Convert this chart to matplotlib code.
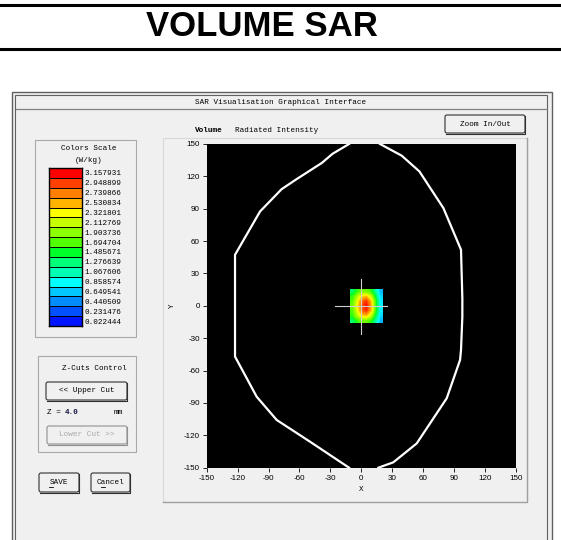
import numpy as np
import matplotlib
matplotlib.use("Agg")
import matplotlib.pyplot as plt
from matplotlib.colors import LinearSegmentedColormap
from matplotlib.patches import Rectangle, FancyBboxPatch

# Colour scale of the SAR viewer (top = max)
scale_labels = ["3.157931", "2.948899", "2.739866", "2.530834", "2.321801", "2.112769",
                "1.903736", "1.694704", "1.485671", "1.276639", "1.067606", "0.858574",
                "0.649541", "0.440509", "0.231476", "0.022444"]
scale_colors = ["#ff0000", "#ff4000", "#ff8000", "#ffb400", "#ffff00", "#c8ff00",
                "#8cff00", "#50ff00", "#00ff28", "#00ff78", "#00ffb4", "#00ffff",
                "#00c8ff", "#008cff", "#0050ff", "#0014ff"]

# SAR values (W/kg) on the small cube slice, rows top -> bottom
sar_grid = np.array([
    [1.3, 1.6, 1.8, 1.8, 1.6, 1.1, 0.6],
    [1.6, 2.0, 2.4, 2.5, 2.1, 1.4, 0.7],
    [1.7, 2.2, 2.8, 3.0, 2.5, 1.6, 0.8],
    [1.8, 2.3, 2.9, 3.15, 2.6, 1.6, 0.8],
    [1.7, 2.2, 2.8, 3.0, 2.5, 1.6, 0.8],
    [1.6, 2.0, 2.4, 2.5, 2.1, 1.4, 0.7],
    [1.3, 1.6, 1.8, 1.8, 1.6, 1.1, 0.6],
])
sar_extent = [-10.8, 20.5, -16.1, 14.8]

# head outline (mm)
left_x = [-11.8, -27.7, -38.3, -62.6, -77.2, -98.2, -122.5, -122.5, -101.5, -82.0, -49.7, -11.8]
left_y = [150, 141, 132.4, 117.5, 108.2, 87.5, 47.3, -47.0, -84.2, -105.8, -125.9, -150]
right_x = [16.7, 31.2, 53.9, 83.0, 96.0, 96.9, 98.2, 98.2, 96.9, 79.8, 56.5, 39.3, 18.3]
right_y = [-150, -145, -127.5, -85.7, -50.1, -40.8, -10.0, 7.1, 52.0, 90.6, 124.6, 139.2, 150]

ticks = [-150, -120, -90, -60, -30, 0, 30, 60, 90, 120, 150]

W, H = 561, 540
GUI = "Liberation Mono"
BG = "#f0f0f0"

fig = plt.figure(figsize=(W / 100, H / 100), dpi=100)
bg = fig.add_axes([0, 0, 1, 1])
bg.set_xlim(0, W)
bg.set_ylim(H, 0)
bg.axis("off")


def frac(x0, y0, x1, y1):
    return [x0 / W, 1 - y1 / H, (x1 - x0) / W, (y1 - y0) / H]


# page title
bg.plot([0, W], [5, 5], color="black", lw=2.2)
bg.plot([0, W], [49, 49], color="black", lw=2.2)
bg.text(262, 27, "VOLUME SAR", ha="center", va="center", fontsize=25,
        fontweight="bold", family="Liberation Sans")

# window
bg.add_patch(Rectangle((12, 92), 540, 460, facecolor=BG, edgecolor="#606060", lw=1.0))
bg.add_patch(Rectangle((15.5, 95), 532, 460, facecolor=BG, edgecolor="#606060", lw=0.8))
bg.plot([16, 547], [108.5, 108.5], color="#808080", lw=0.9)
bg.text(281, 102, "SAR Visualisation Graphical Interface", ha="center", va="center",
        fontsize=5.5, family=GUI)


def button(x0, y0, x1, y1, label, color="black", edge="#303030"):
    bg.add_patch(FancyBboxPatch((x0, y0), x1 - x0, y1 - y0,
                                boxstyle="round,pad=0,rounding_size=2",
                                facecolor=BG, edgecolor=edge, lw=0.8))
    bg.plot([x0 + 1, x1, x1], [y1 + 0.8, y1 + 0.8, y0 + 1], color=edge, lw=0.8)
    bg.text((x0 + x1) / 2, (y0 + y1) / 2, label, ha="center", va="center",
            fontsize=5.5, family=GUI, color=color)


button(445, 115, 525, 133, "Zoom In/Out")
bg.text(195, 131, "Volume", ha="left", va="center", fontsize=5.5, family=GUI,
        fontweight="bold")
bg.text(235, 131, "Radiated Intensity", ha="left", va="center", fontsize=5.5, family=GUI)

# plot panel
bg.add_patch(Rectangle((163, 138), 364, 364, facecolor=BG, edgecolor="#d8d8d8", lw=0.8))
bg.plot([163, 527, 527], [502, 502, 138], color="#a0a0a0", lw=1.0)

# colour scale panel
bg.add_patch(Rectangle((35, 140), 101, 197, facecolor=BG, edgecolor="#a8a8a8", lw=0.8))
bg.text(89, 149, "Colors Scale", ha="center", va="center", fontsize=5.5, family=GUI)
bg.text(89, 160, "(W/kg)", ha="center", va="center", fontsize=5.5, family=GUI)

# z-cuts panel
bg.add_patch(Rectangle((38, 356), 98, 96, facecolor=BG, edgecolor="#a8a8a8", lw=0.8))
bg.text(127, 369, "Z-Cuts Control", ha="right", va="center", fontsize=5.5, family=GUI)
button(46, 382, 127, 400, "<< Upper Cut")
bg.text(47, 412, "Z =", ha="left", va="center", fontsize=5.5, family=GUI)
bg.text(65, 412, "4.0", ha="left", va="center", fontsize=5.5, family=GUI,
        fontweight="bold", color="#101040")
bg.text(114, 412, "mm", ha="left", va="center", fontsize=5.5, family=GUI)
button(47, 426, 127, 444, "Lower Cut >>", color="#a8a8a8", edge="#909090")

button(39, 473, 79, 492, "SAVE")
button(91, 473, 130, 492, "Cancel")
bg.plot([49, 53.5], [487, 487], color="black", lw=0.6)
bg.plot([101, 105.5], [487, 487], color="black", lw=0.6)

# colour bar
cax = fig.add_axes(frac(49, 168, 82, 326))
ypos = np.arange(len(scale_colors))[::-1]
cax.barh(ypos, 1, height=1, color=scale_colors, edgecolor="black", lw=0.7)
cax.set_xlim(0, 1)
cax.set_ylim(-0.5, len(scale_colors) - 0.5)
cax.set_xticks([])
cax.set_yticks(ypos)
cax.set_yticklabels(scale_labels, family=GUI, fontsize=5.5)
cax.yaxis.tick_right()
cax.tick_params(axis="y", length=0, pad=2)
for s in cax.spines.values():
    s.set_linewidth(1.0)

# main plot
ax = fig.add_axes(frac(206.7, 144.0, 515.7, 467.7))
ax.set_facecolor("black")
cmap = LinearSegmentedColormap.from_list("sar", scale_colors[::-1])
ax.imshow(sar_grid, extent=sar_extent, origin="upper", cmap=cmap,
          vmin=float(scale_labels[-1]), vmax=float(scale_labels[0]),
          interpolation="bilinear", aspect="auto", zorder=2)
ax.plot(left_x, left_y, color="white", lw=1.6, zorder=3)
ax.plot(right_x, right_y, color="white", lw=1.6, zorder=3)
ax.plot([-25, 25], [0, 0], color="#d0d0d0", lw=0.8, zorder=4)
ax.plot([0, 0], [-26, 25], color="#d0d0d0", lw=0.8, zorder=4)
ax.set_xlim(-150, 150)
ax.set_ylim(-150, 150)
ax.set_xticks(ticks)
ax.set_yticks(ticks)
ax.set_xticklabels([str(t) for t in ticks])
ax.set_yticklabels([str(t) for t in ticks])
ax.tick_params(direction="out", length=3, width=0.6, labelsize=5.8, pad=2)
for lab in ax.get_xticklabels() + ax.get_yticklabels():
    lab.set_family("Liberation Sans")
for s in ax.spines.values():
    s.set_visible(False)
ax.set_xlabel("X", family=GUI, fontsize=5.5, labelpad=3)
ax.set_ylabel("Y", family=GUI, fontsize=5.5, labelpad=6)

plt.savefig("out.png", dpi=100, facecolor="white")
